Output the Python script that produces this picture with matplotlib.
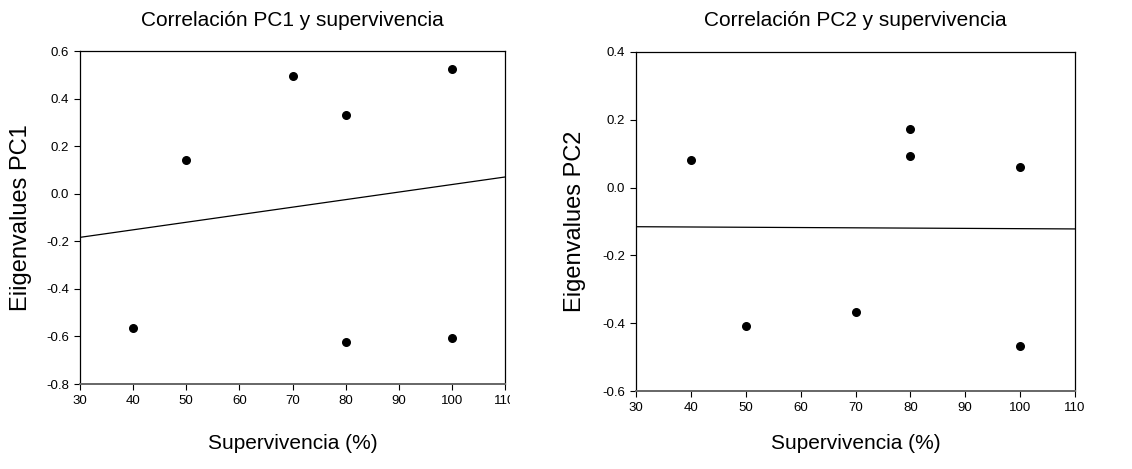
import matplotlib
matplotlib.use("Agg")
import matplotlib.pyplot as plt
import numpy as np
from matplotlib.patches import Rectangle

plt.rcParams['font.family'] = ['Liberation Sans', 'DejaVu Sans']

surv_pc1 = [40, 50, 70, 80, 80, 100, 100]
pc1 = [-0.565, 0.143, 0.493, 0.333, -0.625, 0.525, -0.605]
surv_pc2 = [40, 50, 70, 80, 80, 100, 100]
pc2 = [0.082, -0.407, -0.367, 0.172, 0.092, 0.062, -0.467]

xticks = [30, 40, 50, 60, 70, 80, 90, 100, 110]
yticks1 = [-0.8, -0.6, -0.4, -0.2, 0.0, 0.2, 0.4, 0.6]
yticks2 = [-0.6, -0.4, -0.2, 0.0, 0.2, 0.4]

titles = ["Correlación PC1 y supervivencia", "Correlación PC2 y supervivencia"]
ylabels = ["Eiigenvalues PC1", "Eigenvalues PC2"]
xlabel = "Supervivencia (%)"

W, H = 1132, 469
fig = plt.figure(figsize=(W / 100, H / 100), dpi=100)

def ax_rect(x0, y0, x1, y1):
    return [x0 / W, 1 - y1 / H, (x1 - x0) / W, (y1 - y0) / H]

ax1 = fig.add_axes(ax_rect(80, 51, 505, 384))
ax2 = fig.add_axes(ax_rect(636, 52, 1075, 391))

specs = [
    (ax1, surv_pc1, pc1, yticks1, titles[0], ylabels[0], 21),
    (ax2, surv_pc2, pc2, yticks2, titles[1], ylabels[1], 575),
]

for ax, xs, ys, yt, title, ylab, ylx in specs:
    ax.scatter(xs, ys, s=30, color='black', zorder=3)
    coef = np.polyfit(xs, ys, 1)
    lx = np.array([30, 110])
    ax.plot(lx, np.polyval(coef, lx), color='black', lw=0.9)
    ax.set_xlim(30, 110)
    ax.set_ylim(yt[0], yt[-1])
    ax.set_xticks(xticks)
    ax.set_yticks(yt)
    ax.set_xticklabels([str(v) for v in xticks])
    ax.set_yticklabels([f"{v:.1f}" for v in yt])
    ax.tick_params(direction='out', length=4, width=0.8, labelsize=9.5, colors='black', pad=4)
    for s in ['left', 'right', 'top']:
        ax.spines[s].set_color('black')
        ax.spines[s].set_linewidth(0.9)
    ax.spines['bottom'].set_color('#666666')
    ax.spines['bottom'].set_linewidth(1.4)
    pos = ax.get_position()
    cx = (pos.x0 + pos.x1) / 2
    fig.text(cx, 1 - 20 / H, title, ha='center', va='center', fontsize=15)
    fig.text(cx, 1 - 443 / H, xlabel, ha='center', va='center', fontsize=15)
    fig.text(ylx / W, (pos.y0 + pos.y1) / 2, ylab, ha='center', va='center',
             rotation=90, fontsize=17)

# clip the left panel's last x tick label, as in the reference
clip = Rectangle((0, 0), 510, H, transform=None, visible=False)
fig.add_artist(clip)
for lab in ax1.get_xticklabels():
    lab.set_clip_path(clip)
    lab.set_clip_on(True)

fig.savefig("out.png", dpi=100, facecolor='white')
